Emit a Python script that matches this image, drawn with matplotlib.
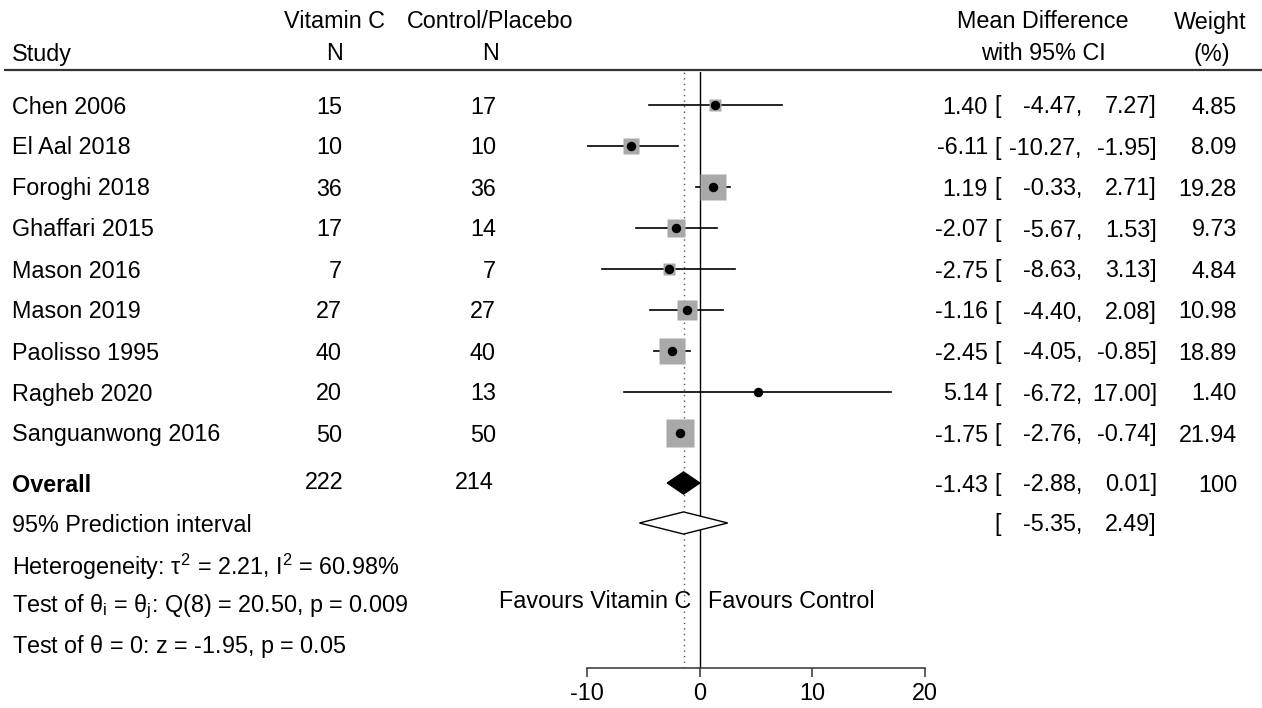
import numpy as np
import matplotlib
matplotlib.use("Agg")
import matplotlib.pyplot as plt
from matplotlib.transforms import blended_transform_factory, offset_copy
from matplotlib.lines import Line2D

plt.rcParams['font.family'] = ['Liberation Sans', 'DejaVu Sans']
plt.rcParams['mathtext.fontset'] = 'custom'
plt.rcParams['mathtext.rm'] = 'Liberation Sans'
plt.rcParams['mathtext.it'] = 'Liberation Sans'
plt.rcParams['axes.unicode_minus'] = False

# dane z wykresu
studies = ["Chen 2006", "El Aal 2018", "Foroghi 2018", "Ghaffari 2015", "Mason 2016",
           "Mason 2019", "Paolisso 1995", "Ragheb 2020", "Sanguanwong 2016"]
n_vitc = [15, 10, 36, 17, 7, 27, 40, 20, 50]
n_ctrl = [17, 10, 36, 14, 7, 27, 40, 13, 50]
md = [1.40, -6.11, 1.19, -2.07, -2.75, -1.16, -2.45, 5.14, -1.75]
ci_low = [-4.47, -10.27, -0.33, -5.67, -8.63, -4.40, -4.05, -6.72, -2.76]
ci_high = [7.27, -1.95, 2.71, 1.53, 3.13, 2.08, -0.85, 17.00, -0.74]
weights = [4.85, 8.09, 19.28, 9.73, 4.84, 10.98, 18.89, 1.40, 21.94]

overall_n = [222, 214]
overall_md = -1.43
overall_ci = [-2.88, 0.01]
pred_int = [-5.35, 2.49]

footnotes = [r"Heterogeneity: $\tau^2$ = 2.21, $\mathrm{I}^2$ = 60.98%",
             r"Test of $\theta_\mathrm{i}$ = $\theta_\mathrm{j}$: Q(8) = 20.50, p = 0.009",
             r"Test of $\theta$ = 0: z = -1.95, p = 0.05"]

W, H = 1262, 708
fs = 16.8
fig = plt.figure(figsize=(W / 100, H / 100), dpi=100)

def fx(px):
    return px / W

def fy(py):
    return 1 - py / H

# osie dla wykresu lasu (forest plot)
ax_top, ax_bot = 72, 668
ax = fig.add_axes([fx(587), fy(ax_bot), fx(925 - 587), (ax_bot - ax_top) / H])
row_h = 41
first_row = 105
ax.set_xlim(-10, 20)
ax.set_ylim((ax_bot - first_row) / row_h, (ax_top - first_row) / row_h)

rows = np.arange(len(studies))
overall_row = (483 - first_row) / row_h
pi_row = (523 - first_row) / row_h

for s in ['top', 'right', 'left']:
    ax.spines[s].set_visible(False)
ax.spines['bottom'].set_linewidth(1.1)
ax.spines['bottom'].set_color('#333333')
ax.set_yticks([])
ax.set_xticks([-10, 0, 10, 20])
ax.tick_params(axis='x', length=6.5, width=1.1, color='#333333', labelsize=fs, pad=3.5)

ax.axvline(0, color='black', lw=1.0, zorder=1)
ax.axvline(overall_md, color='#555555', lw=1.0, ls=(0, (1, 3)), zorder=1)

# przedziały ufności, kwadraty, punkty
for r, m, lo, hi, w in zip(rows, md, ci_low, ci_high, weights):
    ax.plot([lo, hi], [r, r], color='black', lw=1.2, zorder=2)
    ax.plot(m, r, marker='s', ms=0.72 * 5.8 * np.sqrt(w), color='#a9a9a9', mec='none', zorder=3)
    ax.plot(m, r, marker='o', ms=5.8, color='black', zorder=4)

dh = 0.27
ax.fill([overall_ci[0], overall_md, overall_ci[1], overall_md],
        [overall_row, overall_row - dh, overall_row, overall_row + dh],
        color='black', zorder=4)
ax.fill([pred_int[0], overall_md, pred_int[1], overall_md],
        [pi_row, pi_row - dh, pi_row, pi_row + dh],
        facecolor='white', edgecolor='black', lw=1.0, zorder=4)

ax.annotate("Favours Vitamin C", xy=(0, (602 - first_row) / row_h), xytext=(-6, 0),
            textcoords='offset points', ha='right', va='center', fontsize=fs)
ax.annotate("Favours Control", xy=(0, (602 - first_row) / row_h), xytext=(6, 0),
            textcoords='offset points', ha='left', va='center', fontsize=fs)

# nagłówki
fig.add_artist(Line2D([fx(5), 1], [fy(70), fy(70)], color='#333333', lw=1.6))
hdr = dict(fontsize=fs, va='center')
fig.text(fx(12), fy(54), "Study", ha='left', **hdr)
fig.text(fx(334), fy(22), "Vitamin C", ha='center', **hdr)
fig.text(fx(334), fy(54), "N", ha='center', **hdr)
fig.text(fx(490), fy(22), "Control/Placebo", ha='center', **hdr)
fig.text(fx(490), fy(54), "N", ha='center', **hdr)
fig.text(fx(1043), fy(22), "Mean Difference", ha='center', **hdr)
fig.text(fx(1043), fy(54), "with 95% CI", ha='center', **hdr)
fig.text(fx(1210), fy(22), "Weight", ha='center', **hdr)
fig.text(fx(1212), fy(54), "(%)", ha='center', **hdr)

# kolumny tekstowe (przesunięte o 2 px w dół)
tr = offset_copy(blended_transform_factory(fig.transFigure, ax.transData),
                 fig=fig, y=-2, units='dots')
kw = dict(fontsize=fs, va='center', transform=tr)
for r, name, a, b, m, lo, hi, w in zip(rows, studies, n_vitc, n_ctrl, md, ci_low, ci_high, weights):
    fig.text(fx(12), r, name, ha='left', **kw)
    fig.text(fx(342), r, str(a), ha='right', **kw)
    fig.text(fx(496), r, str(b), ha='right', **kw)
    fig.text(fx(988), r, f"{m:.2f}", ha='right', **kw)
    fig.text(fx(994), r, "[", ha='left', **kw)
    fig.text(fx(1082), r, f"{lo:.2f},", ha='right', **kw)
    fig.text(fx(1157), r, f"{hi:.2f}]", ha='right', **kw)
    fig.text(fx(1237), r, f"{w:.2f}", ha='right', **kw)

fig.text(fx(12), overall_row, "Overall", ha='left', fontweight='bold', **kw)
fig.text(fx(343), overall_row - 0.07, str(overall_n[0]), ha='right', **kw)
fig.text(fx(494), overall_row - 0.07, str(overall_n[1]), ha='right', **kw)
fig.text(fx(988), overall_row, f"{overall_md:.2f}", ha='right', **kw)
fig.text(fx(994), overall_row, "[", ha='left', **kw)
fig.text(fx(1082), overall_row, f"{overall_ci[0]:.2f},", ha='right', **kw)
fig.text(fx(1157), overall_row, f"{overall_ci[1]:.2f}]", ha='right', **kw)
fig.text(fx(1237), overall_row, "100", ha='right', **kw)

fig.text(fx(12), pi_row, "95% Prediction interval", ha='left', **kw)
fig.text(fx(994), pi_row, "[", ha='left', **kw)
fig.text(fx(1082), pi_row, f"{pred_int[0]:.2f},", ha='right', **kw)
fig.text(fx(1157), pi_row, f"{pred_int[1]:.2f}]", ha='right', **kw)

for i, t in enumerate(footnotes):
    fig.text(fx(12), fy(567 + 40 * i), t, ha='left', va='center', fontsize=fs)

fig.savefig("out.png", dpi=100)
